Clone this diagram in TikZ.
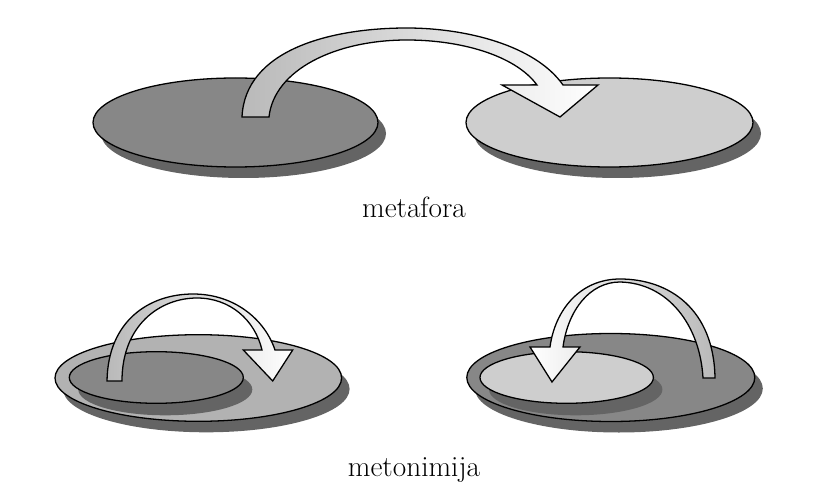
\documentclass[tikz,border=0pt]{standalone}
\usepackage{tikz}
\definecolor{darkc}{RGB}{135,135,135}
\definecolor{midc}{RGB}{178,178,178}
\definecolor{lightc}{RGB}{206,206,206}
\definecolor{shadowc}{RGB}{100,100,100}
\definecolor{bandc}{RGB}{185,185,185}
\tikzset{
  disc/.style       = {draw=black, line width=1.1pt},
  dropshadow/.style = {fill=shadowc},
  band/.style       = {draw=black, line width=1.1pt, line join=miter},
  lbl/.style        = {font=\fontsize{25}{30}\selectfont, inner sep=0pt, anchor=base},
}

\begin{document}
\begin{tikzpicture}[x=0.03cm, y=-0.03cm]
\useasboundingbox (0,0) rectangle (839,482);

% metafora
\coordinate (srcA) at (235.5,122.5);
\coordinate (tgtA) at (609.5,122.5);
\fill[dropshadow] ([shift={(8,11)}]srcA) ellipse [x radius=142.5, y radius=44.5];
\fill[dropshadow] ([shift={(8,11)}]tgtA) ellipse [x radius=143.5, y radius=44.5];
\draw[disc, fill=darkc]  (srcA) ellipse [x radius=142.5, y radius=44.5];
\draw[disc, fill=lightc] (tgtA) ellipse [x radius=143.5, y radius=44.5];
\draw[band, left color=bandc, right color=white]
  (242,117) .. controls (245,50) and (330,28) .. (407,28)
            .. controls (465,28) and (535,45) .. (563,85)
  -- (598,85) -- (560,117) -- (502,85) -- (537,85)
  .. controls (515,55) and (460,40) .. (407,40)
  .. controls (335,40) and (274,70) .. (269,117) -- cycle;
\node[lbl] (meta) at (414,217) {metafora};

% metonimija, left
\coordinate (wholeB) at (198.3,378);
\coordinate (partB)  at (156.3,377.5);
\fill[dropshadow] ([shift={(8,11)}]wholeB) ellipse [x radius=143.3, y radius=43.3];
\draw[disc, fill=midc] (wholeB) ellipse [x radius=143.3, y radius=43.3];
\fill[dropshadow] ([shift={(9,12)}]partB) ellipse [x radius=87, y radius=25.8];
\draw[disc, fill=darkc] (partB) ellipse [x radius=87, y radius=25.8];
\draw[band, left color=bandc, right color=white]
  (107,381) .. controls (108,320) and (150,294) .. (193,294)
            .. controls (235,294) and (265,320) .. (275,350)
  -- (292.7,350) -- (272.7,381) -- (243.3,350) -- (262,350)
  .. controls (255,320) and (230,298) .. (197,298)
  .. controls (160,298) and (122,325) .. (122,381) -- cycle;

% metonimija, right
\coordinate (wholeC) at (610.8,377.5);
\coordinate (partC)  at (566.7,377.5);
\fill[dropshadow] ([shift={(8,11)}]wholeC) ellipse [x radius=144, y radius=44];
\draw[disc, fill=darkc] (wholeC) ellipse [x radius=144, y radius=44];
\fill[dropshadow] ([shift={(9,12)}]partC) ellipse [x radius=86.7, y radius=25.8];
\draw[disc, fill=lightc] (partC) ellipse [x radius=86.7, y radius=25.8];
\draw[band, right color=bandc, left color=white]
  (715,378) .. controls (714,310) and (670,279) .. (620,279)
            .. controls (580,279) and (555,310) .. (550,347)
  -- (530,347) -- (552,382) -- (580,347) -- (563,347)
  .. controls (568,310) and (590,282) .. (620,282)
  .. controls (668,283) and (700,325) .. (703,378) -- cycle;
\node[lbl] (meto) at (414,476.7) {metonimija};

\end{tikzpicture}
\end{document}
